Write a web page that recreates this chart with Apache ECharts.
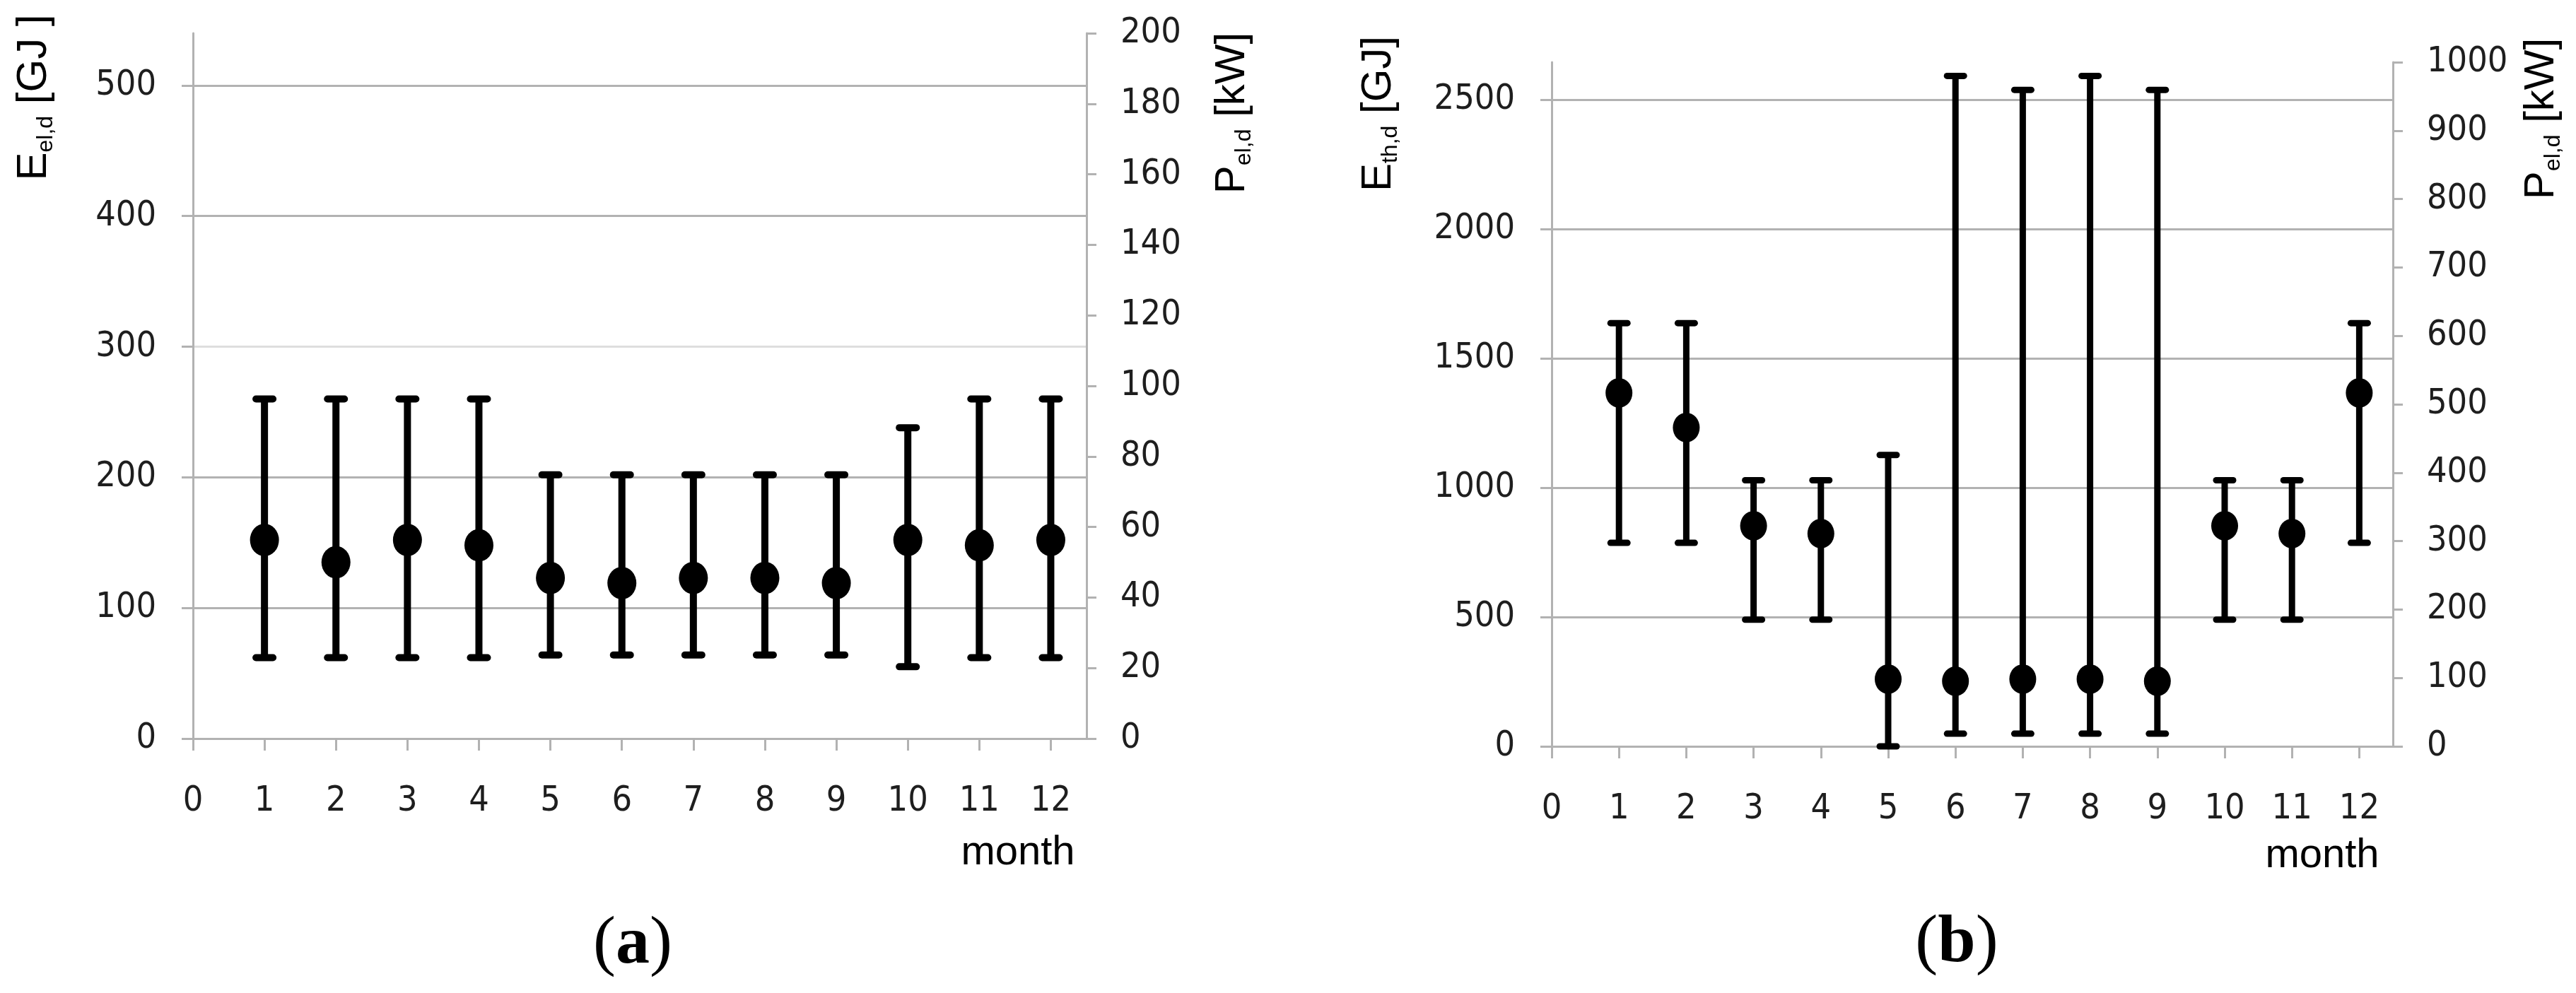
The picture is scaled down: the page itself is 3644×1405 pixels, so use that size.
<!DOCTYPE html>
<html>
<head>
<meta charset="utf-8">
<script src="https://cdn.jsdelivr.net/npm/echarts@6/dist/echarts.min.js"></script>
<style>
html,body{margin:0;padding:0;background:#ffffff;}
#chart{width:3644px;height:1405px;}
</style>
</head>
<body>
<div id="chart"></div>
<script>
// ---------- data ----------
const months = [1,2,3,4,5,6,7,8,9,10,11,12];
const xTickValues = [0,1,2,3,4,5,6,7,8,9,10,11,12];

// (a) electricity
const aLeftTicks = [0,100,200,300,400,500];
const aEnergy = [152,135,152,148,123,119,123,123,119,152,148,152];
const aHigh   = [260,260,260,260,202,202,202,202,202,238,260,260];
const aLow    = [62,62,62,62,64,64,64,64,64,55,62,62];

// (b) heat
const bLeftTicks = [0,500,1000,1500,2000,2500];
const bEnergy = [1367,1233,853,823,260,252,260,260,252,853,823,1367];
const bHigh   = [1637,1637,1029,1029,1127,2593,2539,2593,2539,1029,1029,1637];
const bLow    = [787,787,490,490,0,49,49,49,49,490,490,787];

// ---------- font choice (narrow digits if available) ----------
function fontAvailable(name) {
  const c = document.createElement('canvas').getContext('2d');
  c.font = "56px monospace";
  const w0 = c.measureText('0123456789 month').width;
  c.font = "56px '" + name + "', monospace";
  const w1 = c.measureText('0123456789 month').width;
  return Math.abs(w0 - w1) > 0.5;
}
let LABEL_FONT, LABEL_SIZE;
if (fontAvailable('Liberation Sans Narrow')) {
  LABEL_FONT = "'Liberation Sans Narrow',sans-serif"; LABEL_SIZE = 56;
} else if (fontAvailable('DejaVu Sans Condensed')) {
  LABEL_FONT = "'DejaVu Sans Condensed',sans-serif"; LABEL_SIZE = 50;
} else {
  LABEL_FONT = "'Liberation Sans',sans-serif"; LABEL_SIZE = 50;
}

// ---------- styles ----------
const GRID_COLOR = '#b2b2b2';
const TEXT_FONT = "'Liberation Sans','Arial',sans-serif";
const labelStyle = {color:'#1e1e1e', fontSize:LABEL_SIZE, fontFamily:LABEL_FONT, formatter:function(v){return String(v);}};

function errRender(capW, lw) {
  return function (params, api) {
    const x = api.value(0), lo = api.value(1), hi = api.value(2);
    const pLo = api.coord([x, lo]);
    const pHi = api.coord([x, hi]);
    const half = (capW - lw) / 2;
    const st = {stroke:'#000', lineWidth:lw, lineCap:'round'};
    const stV = {stroke:'#000', lineWidth:lw};
    return {type:'group', children:[
      {type:'line', shape:{x1:pLo[0], y1:pLo[1], x2:pHi[0], y2:pHi[1]}, style:stV},
      {type:'line', shape:{x1:pHi[0]-half, y1:pHi[1], x2:pHi[0]+half, y2:pHi[1]}, style:st},
      {type:'line', shape:{x1:pLo[0]-half, y1:pLo[1], x2:pLo[0]+half, y2:pLo[1]}, style:st}
    ]};
  };
}

function xAxisCfg(grid) {
  return {
    type:'value', gridIndex:grid, min:0, max:12.5,
    axisLine:{show:true, onZero:false, lineStyle:{color:GRID_COLOR, width:3}},
    axisTick:{show:true, inside:false, length:17, customValues:xTickValues, lineStyle:{color:GRID_COLOR, width:3}},
    axisLabel:Object.assign({margin:64, customValues:xTickValues}, labelStyle),
    splitLine:{show:false}
  };
}

function leftAxisCfg(grid, max, ticks, colors) {
  return {
    type:'value', gridIndex:grid, position:'left', min:0, max:max,
    axisLine:{show:true, onZero:false, lineStyle:{color:GRID_COLOR, width:3}},
    axisTick:{show:true, inside:false, length:16, customValues:ticks, lineStyle:{color:GRID_COLOR, width:3}},
    axisLabel:Object.assign({margin:52, customValues:ticks}, labelStyle),
    splitLine:{show:true, lineStyle:{color:colors, width:3}}
  };
}

function rightAxisCfg(grid, max, interval) {
  return {
    type:'value', gridIndex:grid, position:'right', min:0, max:max, interval:interval,
    axisLine:{show:true, onZero:false, lineStyle:{color:GRID_COLOR, width:3}},
    axisTick:{show:true, inside:false, length:14, lineStyle:{color:GRID_COLOR, width:3}},
    axisLabel:Object.assign({margin:48}, labelStyle),
    splitLine:{show:false}
  };
}

const titleRich = {
  a:{fontSize:60, fontFamily:TEXT_FONT, lineHeight:66, color:'#000'},
  b:{fontSize:32, fontFamily:TEXT_FONT, lineHeight:32, verticalAlign:'bottom', color:'#000'}
};
function vTitle(x, y, main, sub, rest) {
  return {type:'text', x:x, y:y, rotation:Math.PI/2,
    style:{text:'{a|' + main + '}{b|' + sub + '}{a|' + rest + '}', rich:titleRich,
      align:'center', verticalAlign:'middle'}};
}
function hText(x, y, txt) {
  return {type:'text', x:x, y:y,
    style:{text:txt, fontSize:58, fontFamily:TEXT_FONT, fill:'#000', align:'center', verticalAlign:'middle'}};
}
const panelRich = {
  p:{fontSize:96, fontFamily:"'Liberation Serif','Times New Roman',serif", fontWeight:'normal', color:'#000'},
  l:{fontSize:96, fontFamily:"'Liberation Serif','Times New Roman',serif", fontWeight:'bold', color:'#000'}
};
function panel(x, y, letter) {
  return {type:'text', x:x, y:y,
    style:{text:'{p|(}{l|' + letter + '}{p|)}', rich:panelRich, align:'center', verticalAlign:'middle'}};
}

const option = {
  backgroundColor:'#ffffff',
  animation:false,
  grid:[
    {left:273, top:47, width:1264, height:998},
    {left:2195, top:88, width:1190, height:968}
  ],
  xAxis:[xAxisCfg(0), xAxisCfg(1)],
  yAxis:[
    leftAxisCfg(0, 540, aLeftTicks, [GRID_COLOR, GRID_COLOR, GRID_COLOR, '#dedede', GRID_COLOR, GRID_COLOR]),
    rightAxisCfg(0, 200, 20),
    leftAxisCfg(1, 2646, bLeftTicks, [GRID_COLOR]),
    rightAxisCfg(1, 1000, 100)
  ],
  series:[
    {type:'custom', xAxisIndex:0, yAxisIndex:0, clip:false, z:2,
      renderItem:errRender(34, 10), encode:{x:0, y:[1,2]},
      data:months.map((m,i)=>[m, aLow[i], aHigh[i]])},
    {type:'scatter', xAxisIndex:0, yAxisIndex:0, z:3, symbol:'circle', symbolSize:[41,46],
      itemStyle:{color:'#000', opacity:1}, data:months.map((m,i)=>[m, aEnergy[i]])},
    {type:'custom', xAxisIndex:1, yAxisIndex:2, clip:false, z:2,
      renderItem:errRender(33, 9), encode:{x:0, y:[1,2]},
      data:months.map((m,i)=>[m, bLow[i], bHigh[i]])},
    {type:'scatter', xAxisIndex:1, yAxisIndex:2, z:3, symbol:'circle', symbolSize:[38,42],
      itemStyle:{color:'#000', opacity:1}, data:months.map((m,i)=>[m, bEnergy[i]])}
  ],
  graphic:[
    vTitle(48, 138, 'E', 'el,d', ' [GJ ]'),
    vTitle(1743, 160, 'P', 'el,d', ' [kW]'),
    vTitle(1950, 161, 'E', 'th,d', ' [GJ]'),
    vTitle(3595, 168, 'P', 'el,d', ' [kW]'),
    hText(1440, 1207, 'month'),
    hText(3285, 1211, 'month'),
    panel(895, 1337, 'a'),
    panel(2768, 1335, 'b')
  ]
};

const chart = echarts.init(document.getElementById('chart'));
chart.setOption(option);
</script>
</body>
</html>
